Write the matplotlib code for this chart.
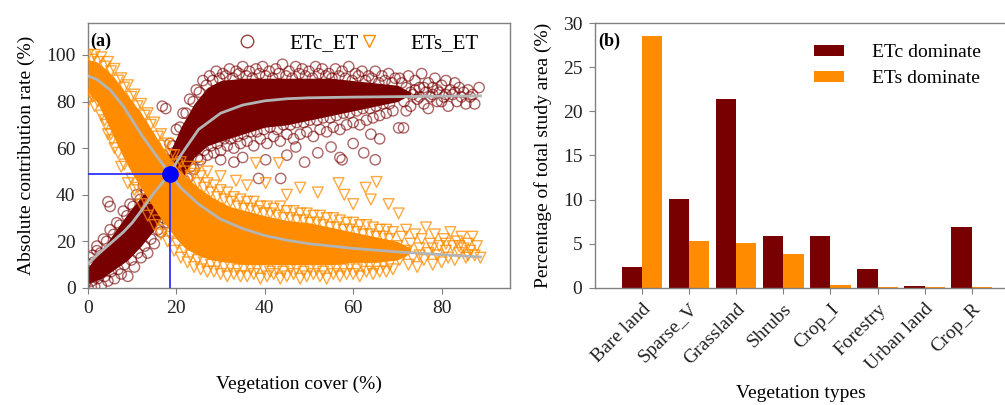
import numpy as np
import matplotlib
matplotlib.use("Agg")
import matplotlib.pyplot as plt
from matplotlib.lines import Line2D

plt.rcParams['font.family'] = ['Liberation Serif', 'DejaVu Serif']
plt.rcParams['font.size'] = 14

# ---------------- panel (a) data ----------------
# dense (solid looking) part of the ETc_ET cloud
etc_core_x = [0, 3, 6, 9, 12, 15, 18, 21, 24, 27, 30, 35, 40, 45, 50, 55, 60, 65, 70, 73]
etc_core_lo = [2, 4, 8, 12, 18, 25, 34, 46, 56, 61, 63, 66, 69, 70, 72, 74, 76, 78, 80, 83]
etc_core_hi = [9, 16, 24, 32, 39, 47, 56, 69, 79, 86, 89, 90, 90, 90, 90, 90, 89, 88, 87, 84]

# ETc_ET circles along the upper edge
etc_upper = [(0.5, 13), (2, 16), (3.5, 21), (5, 25), (6.5, 28), (8, 33), (9.5, 36), (11, 40),
             (12.5, 44), (14, 48), (15.5, 52), (17, 57), (18.5, 62), (20, 68), (21.5, 75),
             (23, 81), (24.5, 85), (26, 89), (27.5, 91), (29, 93), (30.5, 92), (32, 94),
             (33.5, 93), (35, 95), (36.5, 93), (38, 94), (39.5, 95), (41, 93), (42.5, 94),
             (44, 96), (45.5, 93), (47, 95), (48.5, 94), (50, 93), (51.5, 95), (53, 94),
             (54.5, 92), (56, 94), (57.5, 93), (59, 95), (60.5, 92), (62, 93), (63.5, 91),
             (65, 93), (66.5, 91), (68, 92), (69.5, 90),
             (1.2, 11), (2.8, 15), (4.2, 20), (5.8, 23), (7.2, 27), (8.8, 31), (10.2, 35),
             (11.8, 38), (13.2, 42), (14.8, 46), (16.2, 50), (17.8, 55), (19.2, 61),
             (20.8, 69), (22.2, 75), (23.8, 80), (25.2, 84), (26.8, 87), (28.2, 89),
             (29.8, 90), (31.2, 91), (32.8, 90), (34.2, 92), (35.8, 91), (37.2, 90),
             (38.8, 92), (40.2, 91), (41.8, 90), (43.2, 92), (44.8, 91), (46.2, 90),
             (47.8, 92), (49.2, 91), (50.8, 90), (52.2, 92), (53.8, 91), (55.2, 90),
             (56.8, 91), (58.2, 90), (59.8, 89), (61.2, 91), (62.8, 89), (64.2, 90),
             (65.8, 88), (67.2, 89), (68.8, 88)]

# ETc_ET circles along the lower edge
etc_lower = [(0, 0), (1.5, 0.5), (3, 1), (4.5, 3), (6, 4), (7.5, 6), (9, 5), (10.5, 9),
             (12, 13), (13.5, 15), (15, 19), (16.5, 24), (18, 28), (19.5, 35), (21, 40),
             (22.5, 47), (24, 51), (25.5, 55), (27, 57), (28.5, 58), (30, 59), (31.5, 61),
             (33, 60), (34.5, 62), (36, 63), (37.5, 61), (39, 64), (40.5, 62), (42, 65),
             (43.5, 63), (45, 66), (46.5, 64), (48, 66), (49.5, 67), (51, 65), (52.5, 68),
             (54, 67), (55.5, 69), (57, 68), (58.5, 70), (60, 71), (61.5, 70), (63, 72),
             (64.5, 73), (66, 74), (67.5, 75), (69, 76),
             (0.8, 3), (2.2, 4), (3.8, 5), (5.2, 7), (6.8, 8), (8.2, 10), (9.8, 12),
             (11.2, 15), (12.8, 18), (14.2, 21), (15.8, 25), (17.2, 30), (18.8, 34),
             (20.2, 40), (21.8, 46), (23.2, 52), (24.8, 56), (26.2, 59), (27.8, 61),
             (29.2, 62), (30.8, 64), (32.2, 64), (33.8, 65), (35.2, 66), (36.8, 67),
             (38.2, 67), (39.8, 68), (41.2, 69), (42.8, 68), (44.2, 70), (45.8, 70),
             (47.2, 71), (48.8, 71), (50.2, 72), (51.8, 72), (53.2, 73), (54.8, 73),
             (56.2, 74), (57.8, 75), (59.2, 75), (60.8, 76), (62.2, 77), (63.8, 77),
             (65.2, 78), (66.8, 79), (68.2, 79)]

# isolated ETc_ET circles and the thin right tail
etc_other = [(4.5, 37), (5, 35), (16.8, 78), (17.6, 77), (40.2, 55), (38.6, 47), (43.6, 47),
             (47, 60.5), (55, 60.5), (57, 56), (57.5, 55), (62.4, 58), (65, 55), (70.3, 68.7),
             (71.4, 68.7), (52, 58), (60, 62), (45, 57), (35, 56), (33, 54), (30, 55),
             (49, 54), (66, 64), (64, 66), (0, 6), (0.3, 10), (1, 14), (2, 18),
             (70, 84), (71, 88), (71.5, 80), (72, 86), (72.5, 91), (73, 78), (73.5, 83),
             (74, 89), (74.5, 81), (75, 86), (75.5, 92), (76, 79), (76.5, 84), (77, 88),
             (77.5, 82), (78, 86), (78.5, 90), (79, 80), (79.5, 84), (80, 87), (80.5, 82),
             (81, 89), (81.5, 78), (82, 85), (82.5, 83), (83, 88), (83.5, 80), (84, 86),
             (84.5, 82), (85, 84), (85.5, 79), (86, 85), (86.5, 82), (87, 83), (88.5, 86),
             (87.5, 79), (72, 76), (77, 77), (70.5, 90), (73, 84), (75, 82), (79, 85),
             (81, 83), (83, 84), (76, 86), (78, 83), (80, 80), (74, 85)]

# dense part of the ETs_ET cloud
ets_core_x = [0, 2, 4, 6, 8, 10, 12, 14, 16, 18, 20, 22, 25, 28, 32, 36, 40, 45, 50, 55, 60, 65, 70, 73]
ets_core_lo = [84, 80, 72, 64, 56, 49, 43, 37, 31, 26, 21, 17, 14, 12, 11, 10, 10, 10, 10, 10, 11, 11, 12, 15]
ets_core_hi = [98, 97, 94, 90, 85, 80, 75, 69, 63, 57, 52, 48, 43, 39, 35, 33, 31, 29, 28, 26, 24, 22, 20, 17]

# ETs_ET triangles along the upper edge
ets_upper = [(0, 100), (1.5, 100), (3, 99), (4.5, 97), (6, 94), (7.5, 90), (9, 87), (10.5, 83),
             (12, 79), (13.5, 75), (15, 71), (16.5, 66), (18, 62), (19.5, 57), (21, 54),
             (22.5, 52), (24, 49), (25.5, 48), (27, 45), (28.5, 44), (30, 42), (31.5, 41),
             (33, 39), (34.5, 38), (36, 37), (37.5, 37), (39, 35), (40.5, 35), (42, 34),
             (43.5, 35), (45, 33), (46.5, 33), (48, 32), (49.5, 32), (51, 31), (52.5, 31),
             (54, 30), (55.5, 30), (57, 29), (58.5, 28), (60, 28), (61.5, 27), (63, 27),
             (64.5, 26), (66, 25), (67.5, 25), (69, 24),
             (0.8, 98), (2.2, 97), (3.8, 95), (5.2, 93), (6.8, 89), (8.2, 86), (9.8, 82),
             (11.2, 78), (12.8, 74), (14.2, 70), (15.8, 65), (17.2, 61), (18.8, 57),
             (20.2, 53), (21.8, 50), (23.2, 48), (24.8, 45), (26.2, 43), (27.8, 41),
             (29.2, 39), (30.8, 38), (32.2, 37), (33.8, 35), (35.2, 34), (36.8, 34),
             (38.2, 33), (39.8, 32), (41.2, 32), (42.8, 31), (44.2, 30), (45.8, 30),
             (47.2, 29), (48.8, 29), (50.2, 28), (51.8, 28), (53.2, 27), (54.8, 26),
             (56.2, 26), (57.8, 25), (59.2, 25), (60.8, 24), (62.2, 23), (63.8, 23),
             (65.2, 22), (66.8, 22), (68.2, 21)]

# ETs_ET triangles along the lower edge
ets_lower = [(0, 80), (1.5, 78), (3, 74), (4.5, 66), (6, 60), (7.5, 52), (9, 45), (10.5, 42),
             (12, 36), (13.5, 31), (15, 27), (16.5, 23), (18, 20), (19.5, 16), (21, 13),
             (22.5, 11), (24, 9), (25.5, 8), (27, 7), (28.5, 7), (30, 6), (31.5, 5), (33, 6),
             (34.5, 5), (36, 5), (37.5, 6), (39, 4), (40.5, 5), (42, 6), (43.5, 4), (45, 5),
             (46.5, 6), (48, 4), (49.5, 5), (51, 6), (52.5, 5), (54, 4), (55.5, 6), (57, 5),
             (58.5, 6), (60, 6), (61.5, 5), (63, 7), (64.5, 6), (66, 7), (67.5, 7), (69, 8),
             (0.8, 83), (2.2, 80), (3.8, 72), (5.2, 66), (6.8, 58), (8.2, 53), (9.8, 47),
             (11.2, 43), (12.8, 38), (14.2, 34), (15.8, 29), (17.2, 25), (18.8, 22),
             (20.2, 19), (21.8, 16), (23.2, 14), (24.8, 12), (26.2, 11), (27.8, 10),
             (29.2, 10), (30.8, 9), (32.2, 9), (33.8, 8), (35.2, 8), (36.8, 8), (38.2, 8),
             (39.8, 8), (41.2, 7), (42.8, 8), (44.2, 7), (45.8, 8), (47.2, 8), (48.8, 7),
             (50.2, 8), (51.8, 8), (53.2, 7), (54.8, 8), (56.2, 8), (57.8, 8), (59.2, 9),
             (60.8, 8), (62.2, 9), (63.8, 9), (65.2, 9), (66.8, 10), (68.2, 10)]

# isolated ETs_ET triangles and the thin right tail
ets_other = [(38, 53.6), (43.2, 53.6), (33.5, 46), (40.2, 45), (56.7, 45), (62.8, 43),
             (65.3, 45.5), (70.3, 32), (58, 40), (52, 41), (48, 43), (45, 40), (36, 44),
             (30, 48), (27, 50), (25, 52), (1, 82), (2.5, 81), (5.4, 63.5), (4, 70),
             (64, 38), (68, 36), (60, 36),
             (70, 18), (70.5, 12), (71, 22), (71.5, 15), (72, 25), (72.5, 10), (73, 19),
             (73.5, 13), (74, 23), (74.5, 9), (75, 17), (75.5, 21), (76, 12), (76.5, 26),
             (77, 15), (77.5, 19), (78, 10), (78.5, 23), (79, 14), (79.5, 18), (80, 11),
             (80.5, 21), (81, 16), (81.5, 13), (82, 24), (82.5, 18), (83, 12), (83.5, 20),
             (84, 15), (84.5, 22), (85, 17), (85.5, 13), (86, 19), (86.5, 16), (87, 22),
             (87.5, 14), (88.8, 13), (88, 18), (72, 16), (75, 14), (78, 17), (81, 19),
             (84, 18), (86, 14)]

# fitted curves (grey)
fit_x = [0, 2, 5, 8, 10, 12, 15, 18.5, 21, 25, 30, 35, 40, 45, 50, 60, 70, 80, 88.8]
etc_fit = [10.5, 14, 19, 24, 28, 33, 41, 49, 57, 68, 75, 78.5, 80.3, 81.2, 81.6, 81.9, 82.1, 82.3, 82.4]
ets_fit = [91, 89.5, 85, 78, 72, 66, 58, 49, 43, 36, 29.5, 25.5, 22.5, 20.5, 19, 17, 15.5, 14.3, 13.3]

cross_x = 18.5
cross_y = 49

# ---------------- panel (b) data ----------------
veg_types = ['Bare land', 'Sparse_V', 'Grassland', 'Shrubs', 'Crop_I',
             'Forestry', 'Urban land', 'Crop_R']
etc_dom = [2.4, 10.1, 21.4, 5.9, 5.9, 2.1, 0.2, 6.9]
ets_dom = [28.5, 5.3, 5.1, 3.8, 0.3, 0.1, 0.1, 0.1]

dark_red = '#780000'
orange = '#FF8C00'
spine_c = '#808080'


def unzip(pts):
    return [p[0] for p in pts], [p[1] for p in pts]


fig = plt.figure(figsize=(10.05, 4.05), dpi=100)
ax1 = fig.add_axes([0.0876, 0.2889, 0.4199, 0.6543])
ax2 = fig.add_axes([0.592, 0.2889, 0.410, 0.6543])

# ---- panel (a)
ax1.fill_between(etc_core_x, etc_core_lo, etc_core_hi, color=dark_red, lw=0, zorder=1)
for grp in (etc_upper, etc_lower, etc_other):
    gx, gy = unzip(grp)
    ax1.scatter(gx, gy, s=55, marker='o', facecolors='none',
                edgecolors=dark_red, linewidths=1.0, alpha=0.6, zorder=2)
ax1.fill_between(ets_core_x, ets_core_lo, ets_core_hi, color=orange, lw=0, zorder=3)
for grp in (ets_upper, ets_lower, ets_other):
    gx, gy = unzip(grp)
    ax1.scatter(gx, gy, s=60, marker='v', facecolors='none',
                edgecolors=orange, linewidths=1.0, alpha=0.75, zorder=4)
ax1.plot(fit_x, etc_fit, color='#B4B4B4', lw=2, zorder=5)
ax1.plot(fit_x, ets_fit, color='#B4B4B4', lw=2, zorder=5)
ax1.plot([0, cross_x], [cross_y, cross_y], color='#3030FF', lw=1.3, zorder=6)
ax1.plot([cross_x, cross_x], [0, cross_y], color='#3030FF', lw=1.3, zorder=6)
ax1.plot([cross_x], [cross_y], 'o', color='#0000FF', ms=11, zorder=7)

ax1.set_xlim(0, 95.5)
ax1.set_ylim(0, 113.7)
ax1.set_xticks([0, 20, 40, 60, 80])
ax1.set_yticks([0, 20, 40, 60, 80, 100])
ax1.set_xlabel('Vegetation cover (%)', labelpad=42)
ax1.set_ylabel('Absolute contribution rate (%)', labelpad=8)
ax1.text(0.005, 0.965, '(a)', transform=ax1.transAxes, fontweight='bold',
         fontsize=13, va='top', ha='left')
handles = [Line2D([], [], marker='o', ls='none', mfc='none', mec='#9A4040', ms=9, mew=1.0),
           Line2D([], [], marker='v', ls='none', mfc='none', mec=orange, ms=9, mew=1.0)]
ax1.legend(handles, ['ETc_ET', 'ETs_ET'], ncol=2, frameon=False, loc='upper left',
           bbox_to_anchor=(0.284, 1.03), handletextpad=1.0, columnspacing=-0.5,
           fontsize=15)

# ---- panel (b)
pos = np.arange(len(veg_types))
w = 0.43
ax2.bar(pos - w / 2, etc_dom, width=w, color=dark_red, edgecolor='none',
        label='ETc dominate')
ax2.bar(pos + w / 2, ets_dom, width=w, color=orange, edgecolor='none',
        label='ETs dominate')
ax2.set_xlim(-1.0, 7.75)
ax2.set_ylim(0, 30)
ax2.set_yticks([0, 5, 10, 15, 20, 25, 30])
ax2.set_xticks(pos)
ax2.set_xticklabels(veg_types, rotation=45, ha='right', rotation_mode='anchor')
ax2.set_xlabel('Vegetation types', labelpad=8)
ax2.set_ylabel('Percentage of total study area (%)', labelpad=8)
ax2.text(0.008, 0.965, '(b)', transform=ax2.transAxes, fontweight='bold',
         fontsize=13, va='top', ha='left')
ax2.legend(loc='upper left', bbox_to_anchor=(0.488, 0.985), frameon=False,
           handlelength=1.55, handleheight=0.5, handletextpad=1.45, labelspacing=0.45,
           fontsize=14)

for ax in (ax1, ax2):
    for s in ax.spines.values():
        s.set_color(spine_c)
        s.set_linewidth(1.0)
    ax.tick_params(direction='out', length=4, width=0.8, color=spine_c,
                   labelcolor='#222222', labelsize=14, pad=5)

fig.savefig('out.png', dpi=100)
